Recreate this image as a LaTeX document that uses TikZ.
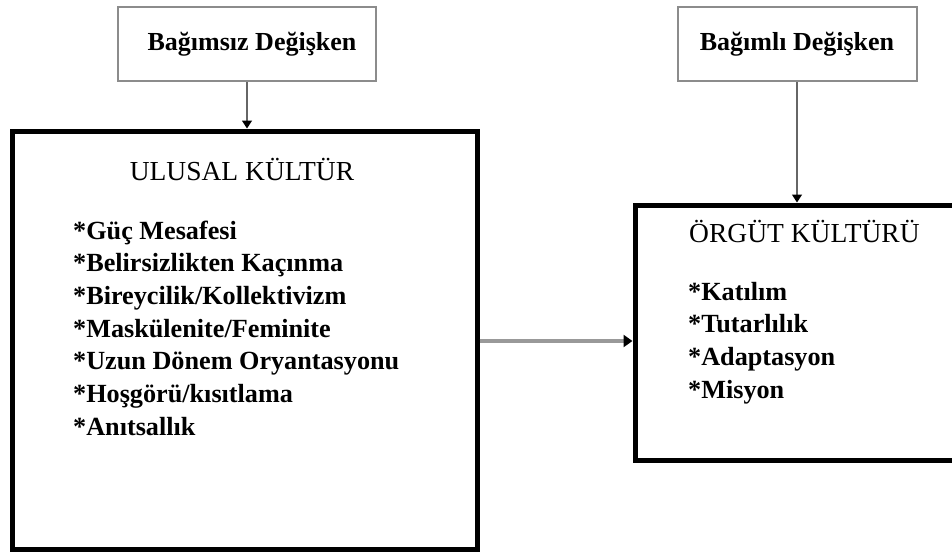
\documentclass[tikz,border=0pt]{standalone}
\usepackage{fontspec}
\setmainfont{Liberation Serif}
\usetikzlibrary{arrows.meta}

\begin{document}
\begin{tikzpicture}[x=1pt, y=-1pt,
  varbox/.style={draw=black!45, line width=2pt, fill=white, inner sep=0pt,
    font=\fontsize{26}{30}\selectfont\bfseries},
  culturebox/.style={draw=black, line width=5pt, inner sep=0pt},
  heading/.style={anchor=base, inner sep=0pt, font=\fontsize{27.5}{32}\selectfont},
  item/.style={anchor=base west, inner sep=0pt, font=\fontsize{26.2}{32}\selectfont\bfseries},
  link/.style={draw=black!60, line width=1.2pt,
    -{Triangle[length=8pt, width=10pt, color=black]}},
  mainlink/.style={draw=black!40, line width=4pt,
    -{Triangle[length=9pt, width=12pt, color=black]}}
]
\useasboundingbox (0,0) rectangle (952,555);

% variable labels
\node[varbox, minimum width=258, minimum height=74] (ind) at (247,44) {\hspace*{10pt}Bağımsız Değişken};
\node[varbox, minimum width=239, minimum height=74] (dep) at (797,44) {Bağımlı Değişken};

% national culture box
\node[culturebox, minimum width=464.5, minimum height=418] (nat) at (244.75,340) {};
\node[heading] (natT) at (242,180) {ULUSAL KÜLTÜR};
\foreach \t [count=\i from 0] in {*Güç Mesafesi, *Belirsizlikten Kaçınma,
    *Bireycilik/Kollektivizm, *Maskülenite/Feminite, *Uzun Dönem Oryantasyonu,
    *Hoşgörü/kısıtlama, *Anıtsallık}
  \node[item] (nat\i) at (73, 239+32.7*\i) {\t};

% organisational culture box (runs past the right edge)
\node[culturebox, minimum width=340, minimum height=255, anchor=north west] (org) at (632.5,202.5) {};
\node[heading, anchor=base west] (orgT) at (689,242) {ÖRGÜT KÜLTÜRÜ};
\foreach \t [count=\i from 0] in {*Katılım, *Tutarlılık, *Adaptasyon, *Misyon}
  \node[item] (org\i) at (688, 300+32.7*\i) {\t};

% connectors
\draw[link] (ind.south) -- (ind.south |- nat.north);
\draw[link] (dep.south) -- (dep.south |- org.north);
\coordinate (mid) at (nat.east |- 0,341);
\draw[mainlink] (mid) -- (mid -| org.west);
\end{tikzpicture}
\end{document}
